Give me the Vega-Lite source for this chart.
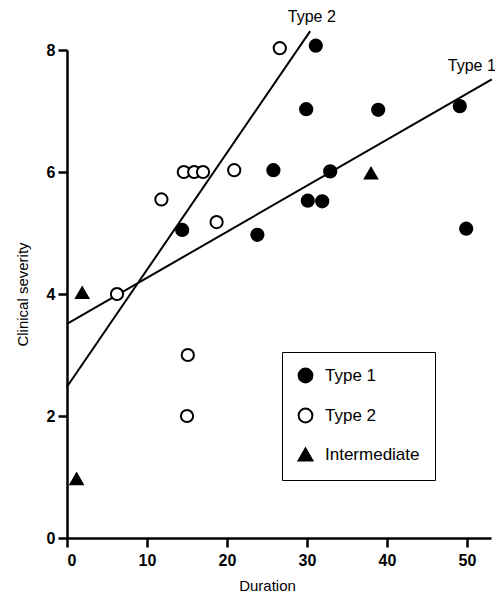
{
  "$schema": "https://vega.github.io/schema/vega-lite/v6.json",
  "autosize": {"type": "none"},
  "padding": {"left": 67, "top": 50, "right": 4, "bottom": 60},
  "width": 424,
  "height": 488,
  "background": "white",
  "config": {
    "view": {"stroke": null},
    "font": "Liberation Sans",
    "axis": {
      "domainColor": "black", "domainWidth": 2.5, "tickColor": "black", "tickWidth": 2.5,
      "tickSize": 9, "grid": false, "labelColor": "black", "labelFont": "Liberation Sans",
      "labelFontWeight": "bold", "labelFontSize": 16, "titleColor": "black",
      "titleFont": "Liberation Sans", "titleFontWeight": "normal", "titleFontSize": 15
    }
  },
  "datasets": {
    "points": [
      {"duration": 14.4, "severity": 5.05, "type": "Type 1"},
      {"duration": 31.1, "severity": 8.07, "type": "Type 1"},
      {"duration": 29.9, "severity": 7.03, "type": "Type 1"},
      {"duration": 38.9, "severity": 7.02, "type": "Type 1"},
      {"duration": 49.1, "severity": 7.08, "type": "Type 1"},
      {"duration": 25.8, "severity": 6.03, "type": "Type 1"},
      {"duration": 32.9, "severity": 6.01, "type": "Type 1"},
      {"duration": 30.1, "severity": 5.53, "type": "Type 1"},
      {"duration": 31.9, "severity": 5.52, "type": "Type 1"},
      {"duration": 23.8, "severity": 4.97, "type": "Type 1"},
      {"duration": 49.9, "severity": 5.07, "type": "Type 1"},
      {"duration": 26.6, "severity": 8.03, "type": "Type 2"},
      {"duration": 11.8, "severity": 5.55, "type": "Type 2"},
      {"duration": 14.6, "severity": 6.0, "type": "Type 2"},
      {"duration": 15.9, "severity": 6.0, "type": "Type 2"},
      {"duration": 17.0, "severity": 6.0, "type": "Type 2"},
      {"duration": 20.9, "severity": 6.03, "type": "Type 2"},
      {"duration": 18.7, "severity": 5.18, "type": "Type 2"},
      {"duration": 6.25, "severity": 4.0, "type": "Type 2"},
      {"duration": 15.1, "severity": 3.0, "type": "Type 2"},
      {"duration": 15.0, "severity": 2.0, "type": "Type 2"},
      {"duration": 1.9, "severity": 4.02, "type": "Intermediate"},
      {"duration": 1.2, "severity": 0.97, "type": "Intermediate"},
      {"duration": 38.0, "severity": 5.98, "type": "Intermediate"}
    ],
    "lines": [
      {"line": "Type 1", "duration": 0, "severity": 3.51},
      {"line": "Type 1", "duration": 53.1, "severity": 7.52},
      {"line": "Type 2", "duration": 0, "severity": 2.48},
      {"line": "Type 2", "duration": 30.4, "severity": 8.31}
    ],
    "labels": [
      {"label": "Type 2", "duration": 30.6, "severity": 8.54},
      {"label": "Type 1", "duration": 50.6, "severity": 7.74}
    ]
  },
  "layer": [
    {
      "data": {"name": "lines"},
      "mark": {"type": "line", "color": "black", "strokeWidth": 2, "clip": false},
      "encoding": {
        "x": {"field": "duration", "type": "quantitative", "scale": {"domain": [0, 53], "nice": false}, "axis": {"values": [0, 10, 20, 30, 40, 50], "format": "d", "title": "Duration", "labelPadding": 5, "titlePadding": 10, "titleX": 200}},
        "y": {"field": "severity", "type": "quantitative", "scale": {"domain": [0, 8], "nice": false}, "axis": {"values": [0, 2, 4, 6, 8], "format": "d", "title": "Clinical severity", "labelPadding": 3, "titlePadding": 16}},
        "detail": {"field": "line"}
      }
    },
    {
      "data": {"name": "points"},
      "mark": {"type": "point", "filled": true, "strokeWidth": 2, "opacity": 1, "size": 150, "clip": false},
      "encoding": {
        "x": {"field": "duration", "type": "quantitative"},
        "y": {"field": "severity", "type": "quantitative"},
        "shape": {"field": "type", "type": "nominal", "title": null,
          "scale": {"domain": ["Type 1", "Type 2", "Intermediate"], "range": ["circle", "circle", "triangle-up"]},
          "legend": {"orient": "none", "legendX": 215, "legendY": 302, "strokeColor": "black", "fillColor": "white",
            "padding": 15, "rowPadding": 17, "symbolSize": 190, "symbolStrokeWidth": 2,
            "labelFontSize": 17, "labelFont": "Liberation Sans", "labelColor": "black", "labelOffset": 11}},
        "fill": {"field": "type", "type": "nominal", "title": null,
          "scale": {"domain": ["Type 1", "Type 2", "Intermediate"], "range": ["black", "white", "black"]},
          "legend": {"orient": "none", "legendX": 215, "legendY": 302, "strokeColor": "black", "fillColor": "white",
            "padding": 15, "rowPadding": 17, "symbolSize": 190, "symbolStrokeWidth": 2,
            "labelFontSize": 17, "labelFont": "Liberation Sans", "labelColor": "black", "labelOffset": 11}},
        "stroke": {"field": "type", "type": "nominal", "title": null,
          "scale": {"domain": ["Type 1", "Type 2", "Intermediate"], "range": ["black", "black", "black"]},
          "legend": {"orient": "none", "legendX": 215, "legendY": 302, "strokeColor": "black", "fillColor": "white",
            "padding": 15, "rowPadding": 17, "symbolSize": 190, "symbolStrokeWidth": 2,
            "labelFontSize": 17, "labelFont": "Liberation Sans", "labelColor": "black", "labelOffset": 11}}
      }
    },
    {
      "data": {"name": "labels"},
      "mark": {"type": "text", "fontSize": 16, "font": "Liberation Sans", "color": "black", "clip": false},
      "encoding": {
        "x": {"field": "duration", "type": "quantitative"},
        "y": {"field": "severity", "type": "quantitative"},
        "text": {"field": "label"}
      }
    }
  ]
}
